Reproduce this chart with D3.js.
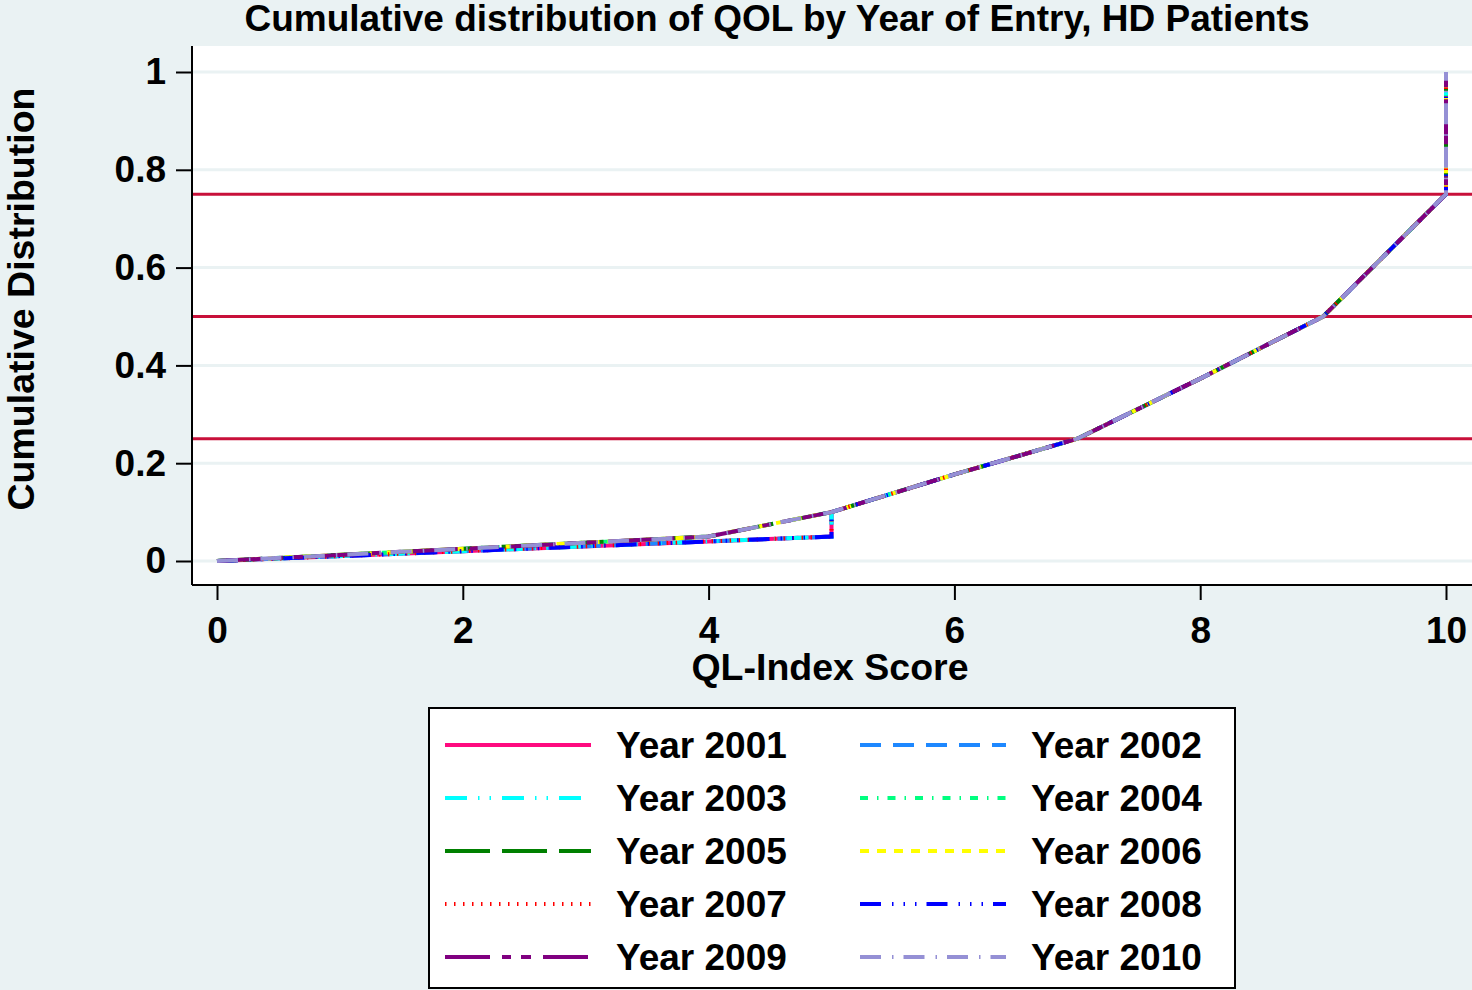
<!DOCTYPE html>
<html>
<head>
<meta charset="utf-8">
<script src="https://cdn.jsdelivr.net/npm/d3@7"></script>
<style>
  body { margin: 0; background: #eaf2f3; }
  svg { display: block; font-family: "Liberation Sans", Arial, sans-serif; font-weight: bold; }
</style>
</head>
<body>
<div id="chart"></div>
<script>
// values
var years = ["2001", "2002", "2003", "2004", "2005", "2006", "2007", "2008", "2009", "2010"];
// entry years whose curve jumps at score 5 (lower path)
var lowerYears = ["2001", "2002", "2003", "2007", "2008"];
var upperScore = [0, 2, 4, 5, 6, 7, 8, 9, 10, 10];
var upperCum   = [0, 0.025, 0.05, 0.1, 0.177, 0.25, 0.373, 0.5, 0.75, 1];
var lowerScore = [0, 2, 4, 5, 5, 6, 7, 8, 9, 10, 10];
var lowerCum   = [0, 0.02, 0.04, 0.05, 0.1, 0.177, 0.25, 0.373, 0.5, 0.75, 1];
var quartiles = [0.25, 0.5, 0.75];
var xTicks = [0, 2, 4, 6, 8, 10];
var yTicks = [0, 0.2, 0.4, 0.6, 0.8, 1];

var colors = {
  "2001": "#ff0a7f", "2002": "#1e88ff", "2003": "#00ffff", "2004": "#00ff80",
  "2005": "#008000", "2006": "#ffff00", "2007": "#ff0000", "2008": "#0000ff",
  "2009": "#800080", "2010": "#9590d5"
};
var dashes = {
  "2001": null, "2002": "21,12", "2003": "22,11,1.5,10,1.5,11", "2004": "8,9,1.5,9",
  "2005": "45,12", "2006": "9,8", "2007": "1.5,7.5", "2008": "21,11,1.5,10,1.5,10,1.5,10",
  "2009": "45,12,9,10,10,12", "2010": "21,11,1.5,10"
};

var W = 1472, H = 990;
var plot = { left: 192, right: 1472, top: 46, bottom: 585 };

var svg = d3.select("#chart").append("svg")
    .attr("width", W)
    .attr("height", H);

svg.append("rect").attr("width", W).attr("height", H).attr("fill", "#eaf2f3");
svg.append("rect")
    .attr("x", plot.left).attr("y", plot.top)
    .attr("width", plot.right - plot.left).attr("height", plot.bottom - plot.top)
    .attr("fill", "white");

var x = d3.scaleLinear().domain([0, 10]).range([217, 1446]);
var y = d3.scaleLinear().domain([0, 1]).range([561, 72]);

// grid
svg.append("g").selectAll("line")
    .data(yTicks)
    .join("line")
    .attr("x1", plot.left).attr("x2", plot.right)
    .attr("y1", function (d) { return y(d); })
    .attr("y2", function (d) { return y(d); })
    .attr("stroke", "#eaf2f3")
    .attr("stroke-width", 3);

// quartile reference lines
svg.append("g").selectAll("line")
    .data(quartiles)
    .join("line")
    .attr("x1", plot.left).attr("x2", plot.right)
    .attr("y1", function (d) { return y(d); })
    .attr("y2", function (d) { return y(d); })
    .attr("stroke", "#c8103a")
    .attr("stroke-width", 3);

// curves
var line = d3.line()
    .x(function (d) { return x(d[0]); })
    .y(function (d) { return y(d[1]); });

var upperPts = upperScore.map(function (s, i) { return [s, upperCum[i]]; });
var lowerPts = lowerScore.map(function (s, i) { return [s, lowerCum[i]]; });

svg.append("g").selectAll("path")
    .data(years)
    .join("path")
    .attr("d", function (d) { return line(lowerYears.indexOf(d) >= 0 ? lowerPts : upperPts); })
    .attr("fill", "none")
    .attr("stroke", function (d) { return colors[d]; })
    .attr("stroke-width", 4)
    .attr("stroke-dasharray", function (d) { return dashes[d]; });

// axes
var yAxis = svg.append("g")
    .attr("transform", "translate(" + plot.left + ",0)")
    .call(d3.axisLeft(y).tickValues(yTicks).tickSize(16).tickPadding(10)
        .tickFormat(function (d) { return d3.format("~g")(d); }));
yAxis.select(".domain").attr("d", "M0," + plot.top + "V" + plot.bottom).attr("stroke-width", 2);

var xAxis = svg.append("g")
    .attr("transform", "translate(0," + plot.bottom + ")")
    .call(d3.axisBottom(x).tickValues(xTicks).tickSize(15).tickPadding(17).tickFormat(d3.format("d")));
xAxis.select(".domain").attr("d", "M" + plot.left + ",0H" + plot.right).attr("stroke-width", 2);

svg.selectAll(".tick line").attr("stroke", "#000").attr("stroke-width", 2);
svg.selectAll(".tick text")
    .attr("fill", "#000")
    .style("font-size", "37px")
    .style("font-family", "'Liberation Sans', Arial, sans-serif")
    .style("font-weight", "bold");

// titles
svg.append("text")
    .attr("x", 777).attr("y", 31)
    .attr("text-anchor", "middle")
    .style("font-size", "37px")
    .text("Cumulative distribution of QOL by Year of Entry, HD Patients");

svg.append("text")
    .attr("x", 830).attr("y", 680)
    .attr("text-anchor", "middle")
    .style("font-size", "37.5px")
    .text("QL-Index Score");

svg.append("text")
    .attr("transform", "translate(34,299) rotate(-90)")
    .attr("text-anchor", "middle")
    .style("font-size", "37.5px")
    .text("Cumulative Distribution");

// legend
var legend = svg.append("g");
legend.append("rect")
    .attr("x", 429).attr("y", 708)
    .attr("width", 806).attr("height", 280)
    .attr("fill", "white")
    .attr("stroke", "#000")
    .attr("stroke-width", 2);

var items = legend.selectAll("g.item")
    .data(years)
    .join("g")
    .attr("class", "item")
    .attr("transform", function (d, i) {
      var col = i % 2, row = Math.floor(i / 2);
      return "translate(" + (col === 0 ? 445 : 860) + "," + (745 + row * 53) + ")";
    });

items.append("line")
    .attr("x1", 0).attr("x2", 146)
    .attr("stroke", function (d) { return colors[d]; })
    .attr("stroke-width", 4)
    .attr("stroke-dasharray", function (d) { return dashes[d]; });

items.append("text")
    .attr("x", 171).attr("y", 13)
    .style("font-size", "37px")
    .text(function (d) { return "Year " + d; });
</script>
</body>
</html>
